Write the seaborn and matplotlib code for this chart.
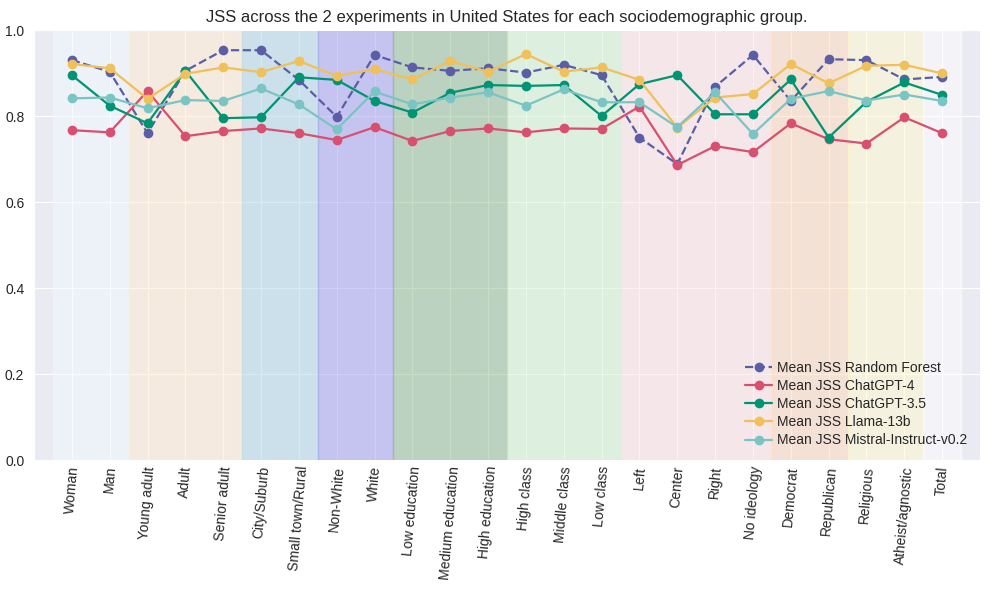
import numpy as np
import pandas as pd
import seaborn as sns
import matplotlib.pyplot as plt

# Data
groups = ["Woman", "Man", "Young adult", "Adult", "Senior adult", "City/Suburb",
          "Small town/Rural", "Non-White", "White", "Low education", "Medium education",
          "High education", "High class", "Middle class", "Low class", "Left", "Center",
          "Right", "No ideology", "Democrat", "Republican", "Religious",
          "Atheist/agnostic", "Total"]

random_forest = [0.930, 0.903, 0.760, 0.905, 0.953, 0.953, 0.884, 0.798, 0.942, 0.913,
                 0.905, 0.911, 0.901, 0.919, 0.895, 0.750, 0.688, 0.868, 0.942, 0.835,
                 0.932, 0.930, 0.885, 0.891]
chatgpt4 = [0.767, 0.762, 0.858, 0.753, 0.765, 0.771, 0.760, 0.744, 0.774, 0.742,
            0.765, 0.771, 0.762, 0.771, 0.770, 0.822, 0.686, 0.730, 0.716, 0.783,
            0.746, 0.736, 0.797, 0.760]
chatgpt35 = [0.895, 0.824, 0.783, 0.905, 0.795, 0.797, 0.890, 0.884, 0.835, 0.808,
             0.854, 0.872, 0.870, 0.872, 0.800, 0.874, 0.895, 0.804, 0.804, 0.885,
             0.750, 0.833, 0.878, 0.849]
llama = [0.921, 0.911, 0.840, 0.898, 0.913, 0.902, 0.928, 0.893, 0.909, 0.885,
         0.928, 0.903, 0.944, 0.903, 0.913, 0.884, 0.773, 0.843, 0.851, 0.921,
         0.876, 0.917, 0.919, 0.899]
mistral = [0.841, 0.843, 0.818, 0.837, 0.835, 0.864, 0.827, 0.769, 0.857, 0.827,
           0.843, 0.855, 0.824, 0.862, 0.832, 0.832, 0.774, 0.855, 0.758, 0.840,
           0.858, 0.836, 0.850, 0.835]

series_names = ["Mean JSS Random Forest", "Mean JSS ChatGPT-4", "Mean JSS ChatGPT-3.5",
                "Mean JSS Llama-13b", "Mean JSS Mistral-Instruct-v0.2"]
series_values = [random_forest, chatgpt4, chatgpt35, llama, mistral]
colors = ["#5B5EA6", "#D94F70", "#009473", "#F0C05A", "#7BC4C4"]

# category blocks: (first, last, colour)
blocks = [(0, 1, "aliceblue"), (2, 4, "blanchedalmond"), (5, 6, "lightblue"),
          (7, 8, "#A29EEE"), (9, 11, "darkseagreen"), (12, 14, "#D2F4CE"),
          (15, 18, "mistyrose"), (19, 20, "peachpuff"), (21, 22, "lemonchiffon"),
          (23, 23, "white")]

df = pd.DataFrame({
    "Group": groups * len(series_names),
    "JSS": sum(series_values, []),
    "Model": sum([[n] * len(groups) for n in series_names], []),
})

sns.set_style("darkgrid")
plt.rcParams["font.family"] = ["Liberation Sans", "DejaVu Sans"]

fig, ax = plt.subplots(figsize=(9.89, 5.9), dpi=100)

for a, b, c in blocks:
    ax.axvspan(a - 0.5, b + 0.5, color=c, alpha=0.5, zorder=1)

for name, col in zip(series_names, colors):
    sub = df[df["Model"] == name]
    sns.lineplot(data=sub, x="Group", y="JSS", ax=ax, color=col, marker="o",
                 markersize=7, markeredgewidth=0, linewidth=1.6, sort=False,
                 label=name, zorder=3,
                 linestyle="--" if name.endswith("Forest") else "-")

ax.set_xlim(-1, 24)
ax.set_ylim(0, 1.0)
ax.set_xlabel("")
ax.set_ylabel("")
ax.set_title("JSS across the 2 experiments in United States for each sociodemographic group.",
             fontsize=12)
plt.setp(ax.get_xticklabels(), rotation=85, fontsize=10)
plt.setp(ax.get_yticklabels(), fontsize=10)
ax.tick_params(axis="x", pad=0.5)
ax.legend(loc="lower right", frameon=False, fontsize=10, handlelength=2,
          handletextpad=0.35, borderaxespad=0.5, labelspacing=0.3)

fig.subplots_adjust(left=34 / 989, right=980 / 989, top=1 - 30 / 590, bottom=1 - 460 / 590)
plt.savefig("out.png", dpi=100)
